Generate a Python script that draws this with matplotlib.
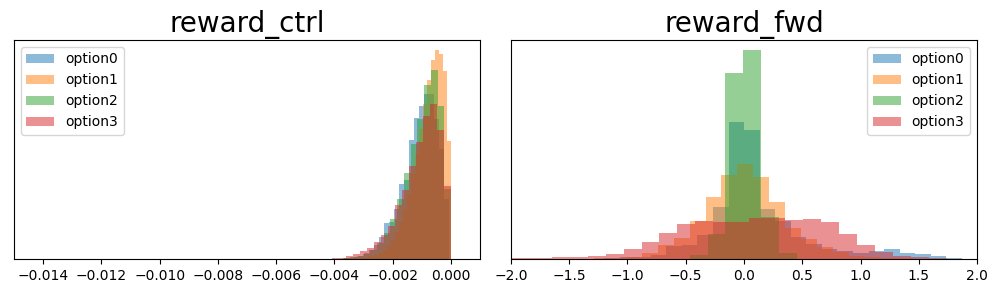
import matplotlib
matplotlib.use('Agg')
import matplotlib.pyplot as plt
import numpy as np

OPTIONS = ['option0', 'option1', 'option2', 'option3']

# reward_ctrl histogram counts, left to right (bins end at right edge)
ctrl_option0 = [0.5, 1, 2, 3, 6, 9, 14, 22, 36, 37, 50, 75, 79, 119, 141, 153, 165, 165, 140, 110, 60]
ctrl_option1 = [0.3, 0.5, 1, 1.5, 2.5, 4, 6, 9, 13, 19, 27, 37, 50, 65, 85, 105, 130, 155, 178, 198, 208, 204, 187, 118]
ctrl_option2 = [0.8, 1.5, 3, 5, 9, 16, 26, 40, 60, 86, 115, 140, 173, 188, 153, 70]
ctrl_option3 = [0.8, 1.3, 2.5, 4.5, 8, 11, 17, 24, 33, 54, 69, 93, 117, 143, 155, 129, 73]
ctrl_bin_width = [0.000172, 0.000138, 0.000231, 0.000241]
ctrl_right_edge = [-0.000069, 0.0, 0.0, 0.0]

# reward_fwd histogram counts, left to right (bins start at left edge)
fwd_option0 = [1, 2, 2, 4, 13, 14, 24, 52, 137, 129, 50, 38, 22, 15, 10, 8, 6, 8, 10, 6.3, 5, 2.5, 1]
fwd_option1 = [0.7, 1, 2, 6, 14, 21, 38, 62, 84, 95, 82, 57, 31, 20, 12, 7, 3, 1.5, 1, 0.5]
fwd_option2 = [4, 25, 185, 208, 42, 6]
fwd_option3 = [0.5, 0.7, 1, 2, 2, 3, 5, 10, 17, 26, 35, 38, 37, 37, 41, 41, 39, 40, 37, 25, 14, 7, 3, 1.5, 0.7]
fwd_bin_width = [0.1336, 0.137, 0.154, 0.154]
fwd_left_edge = [-1.2017, -1.289, -0.467, -2.111]

fig, (ax1, ax2) = plt.subplots(1, 2, figsize=(9.95, 2.96), dpi=100)
fig.subplots_adjust(left=0.014, right=0.982, bottom=0.125, top=0.865, wspace=0.066)

ctrl = [ctrl_option0, ctrl_option1, ctrl_option2, ctrl_option3]
for i, counts in enumerate(ctrl):
    n = len(counts)
    edges = ctrl_right_edge[i] - ctrl_bin_width[i] * np.arange(n, -1, -1)
    ax1.hist(edges[:-1], bins=edges, weights=counts, alpha=0.5, label=OPTIONS[i])
ax1.set_xlim(-0.015, 0.001)
ax1.set_xticks([-0.014, -0.012, -0.010, -0.008, -0.006, -0.004, -0.002, 0.000])
ax1.set_yticks([])
ax1.set_title('reward_ctrl', fontsize=20)
ax1.legend(loc='upper left')

fwd = [fwd_option0, fwd_option1, fwd_option2, fwd_option3]
for i, counts in enumerate(fwd):
    n = len(counts)
    edges = fwd_left_edge[i] + fwd_bin_width[i] * np.arange(n + 1)
    ax2.hist(edges[:-1], bins=edges, weights=counts, alpha=0.5, label=OPTIONS[i])
ax2.set_xlim(-2, 2)
ax2.set_yticks([])
ax2.set_title('reward_fwd', fontsize=20)
ax2.legend(loc='upper right')

plt.savefig('out.png')
